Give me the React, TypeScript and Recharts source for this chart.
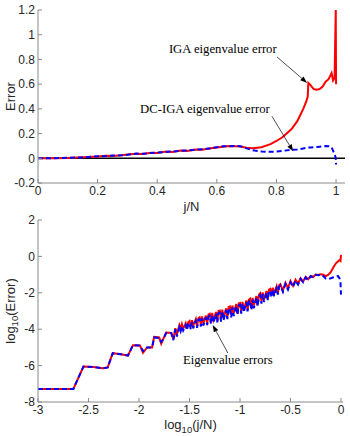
import { LineChart, Line, XAxis, YAxis, ReferenceLine, ReferenceDot } from 'recharts';

// top panel: eigenvalue error vs j/N
const jN = [
  0, 0.05, 0.1, 0.15, 0.2, 0.23, 0.25, 0.28, 0.3, 0.33, 0.35, 0.38, 0.4, 0.43, 0.45, 0.48, 0.5, 0.53, 0.55, 0.58,
  0.6, 0.62, 0.64, 0.66, 0.68, 0.7, 0.72, 0.75, 0.78, 0.8, 0.82, 0.85, 0.87, 0.88, 0.89, 0.9, 0.905, 0.907,
  0.915, 0.925, 0.935, 0.945, 0.955, 0.965, 0.975, 0.985, 0.99, 0.995, 0.999, 1.0,
];
const igaErr = [
  0, 0.001, 0.003, 0.008, 0.014, 0.02, 0.019, 0.025, 0.03, 0.036, 0.034, 0.045, 0.043, 0.054, 0.05, 0.063, 0.06, 0.072, 0.07, 0.082,
  0.088, 0.094, 0.1, 0.098, 0.095, 0.085, 0.082, 0.09, 0.115, 0.14, 0.17, 0.235, 0.3, 0.35, 0.4, 0.46, 0.5, 0.61,
  0.59, 0.56, 0.555, 0.56, 0.58, 0.62, 0.64, 0.69, 0.63, 0.65, 1.2, 0.6,
];
const dcErr = [
  0, 0.001, 0.004, 0.007, 0.016, 0.018, 0.022, 0.024, 0.028, 0.038, 0.036, 0.043, 0.047, 0.051, 0.055, 0.06, 0.064, 0.07, 0.074, 0.08,
  0.09, 0.097, 0.098, 0.1, 0.097, 0.08, 0.065, 0.055, 0.052, 0.055, 0.06, 0.068, 0.072, 0.075, 0.08, 0.085, 0.086, 0.087,
  0.088, 0.09, 0.092, 0.094, 0.096, 0.1, 0.098, 0.09, 0.06, 0.04, 0.0, -0.05,
];
const topXTicks = [0, 0.2, 0.4, 0.6, 0.8, 1];
const topYTicks = [-0.2, 0, 0.2, 0.4, 0.6, 0.8, 1, 1.2];

// bottom panel: log10 error vs log10(j/N)
const logJN = [
  -3, -2.65, -2.55, -2.45, -2.36, -2.31, -2.26, -2.18, -2.11, -2.06, -1.99, -1.96, -1.92, -1.87, -1.85, -1.8, -1.78, -1.76,
  -1.73, -1.68, -1.66, -1.64, -1.625,
  -1.6, -1.5875, -1.575, -1.5625, -1.55, -1.5375, -1.525, -1.5125,
  -1.5, -1.4875, -1.475, -1.4625, -1.45, -1.4375, -1.425, -1.4125,
  -1.4, -1.3875, -1.375, -1.3625, -1.35, -1.3375, -1.325, -1.3125,
  -1.3, -1.2875, -1.275, -1.2625, -1.25, -1.2375, -1.225, -1.2125,
  -1.2, -1.1875, -1.175, -1.1625, -1.15, -1.1375, -1.125, -1.1125,
  -1.1, -1.0875, -1.075, -1.0625, -1.05, -1.0375, -1.025, -1.0125,
  -1.0, -0.9875, -0.975, -0.9625, -0.95, -0.9375, -0.925, -0.9125,
  -0.9, -0.8875, -0.875, -0.8625, -0.85, -0.8375, -0.825, -0.8125,
  -0.8, -0.7875, -0.775, -0.7625, -0.75, -0.7375, -0.725, -0.7125,
  -0.7, -0.6875, -0.675, -0.6625, -0.65, -0.6375, -0.625, -0.6125,
  -0.6, -0.575, -0.55, -0.525, -0.5, -0.475, -0.45, -0.425,
  -0.4, -0.375, -0.35, -0.325, -0.3, -0.275, -0.25, -0.225, -0.2, -0.175, -0.15, -0.125, -0.1, -0.075, -0.05, -0.03,
  -0.015, -0.005, 0,
];
const logIga = [
  -7.28, -7.28, -6.05, -6.08, -6.15, -6.1, -5.32, -5.38, -5.45, -4.88, -4.9, -5.3, -5.0, -5.0, -4.42, -4.45, -4.8, -4.55,
  -4.18, -4.2, -4.55, -3.95, -4.3,
  -3.78, -4.0, -3.72, -3.95, -3.85, -3.68, -3.98, -3.62,
  -3.55, -3.9, -3.5, -3.82, -3.62, -3.45, -3.85, -3.4,
  -3.35, -3.75, -3.3, -3.65, -3.45, -3.25, -3.7, -3.2,
  -3.15, -3.6, -3.1, -3.5, -3.3, -3.05, -3.55, -3.0,
  -2.98, -3.45, -2.92, -3.35, -3.12, -2.85, -3.38, -2.78,
  -2.75, -3.2, -2.7, -3.12, -2.88, -2.62, -3.15, -2.58,
  -2.55, -3.0, -2.5, -2.92, -2.68, -2.42, -2.95, -2.38,
  -2.32, -2.8, -2.28, -2.7, -2.45, -2.18, -2.68, -2.1,
  -2.02, -2.45, -1.98, -2.38, -2.15, -1.9, -2.35, -1.82,
  -1.78, -2.12, -1.72, -2.05, -1.85, -1.65, -2.02, -1.58,
  -1.52, -1.88, -1.45, -1.75, -1.35, -1.62, -1.28, -1.5,
  -1.2, -1.38, -1.13, -1.26, -1.07, -1.13, -1.0, -1.02, -0.98, -1.0, -1.08, -1.0, -0.85, -0.6, -0.38, -0.28,
  -0.2, -0.25, 0.08,
];
const logDc = [
  -7.28, -7.28, -6.05, -6.08, -6.15, -6.1, -5.32, -5.38, -5.45, -4.88, -4.9, -5.2, -5.0, -5.0, -4.45, -4.48, -4.7, -4.55,
  -4.2, -4.22, -4.6, -4.0, -4.4,
  -3.88, -4.1, -3.82, -4.08, -3.95, -3.78, -4.05, -3.72,
  -3.65, -4.0, -3.6, -3.95, -3.72, -3.55, -3.93, -3.5,
  -3.45, -3.85, -3.4, -3.8, -3.55, -3.35, -3.78, -3.3,
  -3.25, -3.7, -3.2, -3.65, -3.4, -3.15, -3.62, -3.1,
  -3.08, -3.58, -3.02, -3.5, -3.22, -2.95, -3.45, -2.88,
  -2.85, -3.35, -2.8, -3.28, -2.98, -2.72, -3.22, -2.68,
  -2.65, -3.15, -2.6, -3.08, -2.78, -2.52, -3.02, -2.48,
  -2.42, -2.95, -2.38, -2.85, -2.55, -2.28, -2.75, -2.2,
  -2.12, -2.6, -2.08, -2.5, -2.25, -2.0, -2.4, -1.92,
  -1.88, -2.25, -1.82, -2.18, -1.95, -1.75, -2.1, -1.68,
  -1.6, -1.95, -1.52, -1.82, -1.42, -1.68, -1.33, -1.55,
  -1.24, -1.42, -1.16, -1.3, -1.09, -1.15, -1.01, -1.03, -0.99, -1.08, -1.22, -1.25, -1.2, -1.15, -1.12, -1.08,
  -1.2, -1.4, -2.1,
];
const botXTicks = [-3, -2.5, -2, -1.5, -1, -0.5, 0];
const botYTicks = [-8, -6, -4, -2, 0, 2];

const topData = jN.map((x, i) => ({ x, iga: igaErr[i], dc: dcErr[i] }));
const botData = logJN.map((x, i) => ({ x, iga: logIga[i], dc: logDc[i] }));

const sans = 'Liberation Sans, Arial, sans-serif';
const serif = 'Liberation Serif, Times New Roman, serif';
const tickStyle = { fill: '#262626', fontSize: 12, fontFamily: sans };
const boxColor = '#8a8a8a';

const Arrow = (p: any) => {
  const { x1, y1, x2, y2 } = p;
  const a = Math.atan2(y2 - y1, x2 - x1);
  const L = 7, W = 2.5;
  const bx = x2 - L * Math.cos(a), by = y2 - L * Math.sin(a);
  const pts = `${x2},${y2} ${bx - W * Math.sin(a)},${by + W * Math.cos(a)} ${bx + W * Math.sin(a)},${by - W * Math.cos(a)}`;
  return (
    <g>
      <line x1={x1} y1={y1} x2={bx} y2={by} stroke="#000" strokeWidth={0.7} />
      <polygon points={pts} fill="#000" />
    </g>
  );
};

const note = (text: string) => (p: any) => (
  <text x={p.cx} y={p.cy} textAnchor="middle" dominantBaseline="central" fontFamily={serif} fontSize={12.7} fill="#000">
    {text}
  </text>
);

const yTitle = (children: any) => ({ viewBox }: any) => {
  const cy = viewBox.y + viewBox.height / 2;
  return (
    <text x={10} y={cy} transform={`rotate(-90, 10, ${cy})`} textAnchor="middle" dominantBaseline="central" fontFamily={sans} fontSize={13} fill="#262626">
      {children}
    </text>
  );
};

const xTitle = (children: any, dy: number) => ({ viewBox }: any) => (
  <text x={viewBox.x + viewBox.width / 2} y={viewBox.y + dy} textAnchor="middle" fontFamily={sans} fontSize={13} fill="#262626">
    {children}
  </text>
);

export default function App() {
  return (
    <div style={{ position: 'absolute', left: 0, top: 0, width: 350, height: 436, background: '#fff' }}>
      <div style={{ position: 'absolute', left: 0, top: 0 }}>
        <LineChart width={350} height={215} data={topData} margin={{ top: 10, right: 5, left: 0, bottom: 0 }}>
          <XAxis dataKey="x" type="number" domain={[0, 1.03]} ticks={topXTicks} allowDataOverflow
            height={32} tick={tickStyle} tickSize={-4} tickMargin={7} stroke={boxColor}
            label={{ content: xTitle('j/N', 28) }} />
          <XAxis xAxisId="top" orientation="top" dataKey="x" type="number" domain={[0, 1.03]} ticks={topXTicks}
            height={0} tick={false} tickSize={-4} stroke={boxColor} />
          <YAxis type="number" domain={[-0.2, 1.2]} ticks={topYTicks} allowDataOverflow width={38}
            tick={tickStyle} tickSize={-4} tickMargin={7} stroke={boxColor}
            label={{ content: yTitle('Error') }} />
          <YAxis yAxisId="right" orientation="right" type="number" domain={[-0.2, 1.2]} ticks={topYTicks}
            width={0} tick={false} tickSize={-4} stroke={boxColor} />
          <ReferenceLine y={0} stroke="#000" strokeWidth={1.5} />
          <Line dataKey="iga" stroke="#ff0000" strokeWidth={2} dot={false} isAnimationActive={false} />
          <Line dataKey="dc" stroke="#0000ff" strokeWidth={2} strokeDasharray="5 3" dot={false} isAnimationActive={false} />
          <ReferenceLine segment={[{ x: 0.802, y: 0.82 }, { x: 0.903, y: 0.61 }]} shape={Arrow} />
          <ReferenceLine segment={[{ x: 0.785, y: 0.34 }, { x: 0.856, y: 0.056 }]} shape={Arrow} />
          <ReferenceDot x={0.62} y={0.885} r={0} shape={note('IGA eigenvalue error')} />
          <ReferenceDot x={0.56} y={0.4} r={0} shape={note('DC-IGA eigenvalue error')} />
        </LineChart>
      </div>
      <div style={{ position: 'absolute', left: 0, top: 210 }}>
        <LineChart width={350} height={226} data={botData} margin={{ top: 10, right: 7, left: 0, bottom: 0 }}>
          <XAxis dataKey="x" type="number" domain={[-3, 0.02]} ticks={botXTicks} allowDataOverflow
            height={34} tick={tickStyle} tickSize={-4} tickMargin={7} stroke={boxColor}
            label={{ content: xTitle(<>log<tspan fontSize={9.5} dy={4}>10</tspan><tspan dy={-4}>(j/N)</tspan></>, 27) }} />
          <XAxis xAxisId="top" orientation="top" dataKey="x" type="number" domain={[-3, 0.02]} ticks={botXTicks}
            height={0} tick={false} tickSize={-4} stroke={boxColor} />
          <YAxis type="number" domain={[-8, 2]} ticks={botYTicks} allowDataOverflow width={38}
            tick={tickStyle} tickSize={-4} tickMargin={7} stroke={boxColor}
            label={{ content: yTitle(<>log<tspan fontSize={9.5} dy={4}>10</tspan><tspan dy={-4}>(Error)</tspan></>) }} />
          <YAxis yAxisId="right" orientation="right" type="number" domain={[-8, 2]} ticks={botYTicks}
            width={0} tick={false} tickSize={-4} stroke={boxColor} />
          <Line dataKey="iga" stroke="#ff0000" strokeWidth={2} dot={false} isAnimationActive={false} />
          <Line dataKey="dc" stroke="#0000ff" strokeWidth={2} strokeDasharray="5 3" dot={false} isAnimationActive={false} />
          <ReferenceLine segment={[{ x: -1.12, y: -5.31 }, { x: -1.27, y: -3.77 }]} shape={Arrow} />
          <ReferenceDot x={-1.12} y={-5.69} r={0} shape={note('Eigenvalue errors')} />
        </LineChart>
      </div>
    </div>
  );
}
